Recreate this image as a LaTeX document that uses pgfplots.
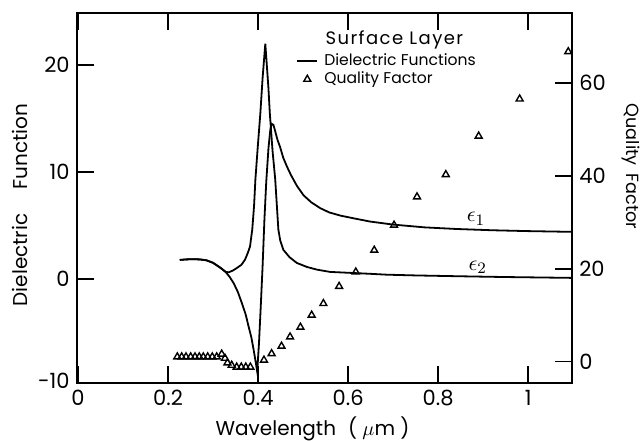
\documentclass[border=0pt]{standalone}
\usepackage{fontspec}
\setmainfont{Poppins}
\newfontfamily\spacedfont[LetterSpace=8]{Poppins}
\usepackage{pgfplots}
\pgfplotsset{compat=1.18}
\pgfplotsset{
  legline/.style={legend image code/.code={\draw[##1] (0pt,0pt) -- (10pt,0pt); \path[draw=none, mark=none] (0pt,0pt) -- (13pt,0pt);}},
  legmark/.style={legend image code/.code={\draw[##1] plot coordinates {(5pt,0pt)}; \path[draw=none] (0pt,0pt) -- (13pt,0pt);}},
}

% epsilon_1 (real part)
\pgfplotstableread{
x y
0.226 1.75
0.240 1.80
0.255 1.82
0.270 1.80
0.285 1.72
0.300 1.48
0.310 1.20
0.320 0.90
0.328 0.62
0.337 0.15
0.346 -0.45
0.355 -1.25
0.364 -2.30
0.372 -3.30
0.379 -4.50
0.385 -5.50
0.390 -6.65
0.395 -7.90
0.398 -8.70
0.402 -6.00
0.406 -2.50
0.410 1.20
0.414 5.50
0.418 9.00
0.423 12.20
0.427 13.90
0.430 14.50
0.434 14.40
0.438 13.80
0.443 13.00
0.449 12.30
0.456 11.30
0.464 10.50
0.473 9.70
0.486 8.70
0.501 7.80
0.518 7.15
0.538 6.60
0.558 6.20
0.583 5.90
0.612 5.65
0.648 5.35
0.700 5.06
0.770 4.80
0.840 4.65
0.920 4.53
1.000 4.45
1.098 4.38
}\epsone

% epsilon_2 (imaginary part)
\pgfplotstableread{
x y
0.226 1.75
0.240 1.80
0.255 1.82
0.270 1.80
0.285 1.72
0.300 1.48
0.310 1.20
0.320 0.90
0.328 0.62
0.335 0.60
0.344 0.76
0.353 1.00
0.363 1.30
0.371 1.78
0.377 2.40
0.382 3.00
0.387 4.60
0.391 6.80
0.394 9.30
0.399 12.20
0.405 15.50
0.410 18.80
0.416 22.00
0.419 20.20
0.423 17.80
0.426 15.50
0.432 12.00
0.438 9.30
0.445 4.60
0.449 3.60
0.456 2.70
0.470 2.00
0.486 1.47
0.508 1.10
0.531 0.84
0.560 0.63
0.600 0.55
0.650 0.45
0.686 0.37
0.750 0.30
0.850 0.22
0.950 0.15
1.098 0.07
}\epstwo

% quality factor
\pgfplotstableread{
x q
0.2205 1.0
0.2302 1.0
0.2398 1.0
0.2502 1.0
0.2598 1.0
0.2693 1.0
0.2782 1.0
0.2880 1.0
0.2982 1.0
0.3080 1.0
0.3191 1.6
0.3264 0.7
0.3319 -0.3
0.3413 -0.8
0.3524 -1.2
0.3626 -1.2
0.3726 -1.2
0.3828 -1.2
0.413 0.3
0.430 1.7
0.452 3.3
0.471 5.3
0.494 7.4
0.519 10.0
0.545 12.5
0.580 16.2
0.617 19.3
0.658 24.0
0.702 29.4
0.753 35.5
0.817 40.3
0.890 48.6
0.981 56.6
1.089 66.8
}\qual

\begin{document}
\begin{tikzpicture}
\pgfplotsset{
  every axis/.append style={
    scale only axis, width=247.8pt, height=185.3pt,
    xmin=-0.003, xmax=1.098,
    tick align=inside, major tick length=8.5pt,
    every tick/.style={black, line width=0.9pt},
    ticklabel style={font=\fontsize{10.5}{12}\selectfont},
    /pgf/number format/assume math mode=true,
    clip=false,
  }
}
\begin{axis}[
  ymin=-9.8, ymax=24.9,
  axis line style={line width=1pt},
  xtick={0,0.2,0.4,0.6,0.8,1}, xticklabels={0,0.2,0.4,0.6,0.8,1},
  xtick pos=both, xticklabel pos=bottom,
  ytick={0,10,20}, yticklabels={0,10,20}, ytick pos=left,
]
\addplot[black, line width=0.9pt] table[x=x, y=y] {\epsone};
\addplot[black, line width=0.9pt] table[x=x, y=y] {\epstwo};
\node[anchor=east, inner sep=0.333em, font=\fontsize{10.5}{12}\selectfont] at (rel axis cs:0,0.007) {-10};
\node[font=\fontsize{11}{12}\selectfont] at (axis cs:0.884,5.6) {$\epsilon_1$};
\node[font=\fontsize{11}{12}\selectfont] at (axis cs:0.888,1.05) {$\epsilon_2$};
\node[font=\fontsize{9}{10}\spacedfont, anchor=base] at (rel axis cs:0.641,0.913) {Surface Layer};
\node[rotate=90, font=\fontsize{10}{12}\selectfont] at (rel axis cs:-0.114,0.481) {Dielectric\hspace{1.2em}Function};
\node[rotate=-90, font=\fontsize{8.8}{12}\selectfont] at (rel axis cs:1.118,0.585) {Quality\hspace{0.45em}Factor};
\node[font=\fontsize{10}{12}\selectfont, anchor=base] at (rel axis cs:0.476,-0.1395) {Wavelength\hspace{0.6em}( $\mu$m )};
\coordinate (sw) at (rel axis cs:0,0);
\coordinate (ne) at (rel axis cs:1,1);
\end{axis}
\begin{axis}[
  ymin=-4.7, ymax=75.2,
  hide x axis,
  axis line style={draw=none},
  ytick={0,20,40,60}, yticklabels={0,20,40,60}, ytick pos=right, yticklabel pos=right,
  legend style={at={(rel axis cs:0.4425,0.893)}, anchor=north west, draw=none, fill=none,
    inner sep=0pt, row sep=0.5pt, font=\fontsize{7.8}{8}\selectfont,
    nodes={inner sep=0.5pt, text height=5.8pt, text depth=1.7pt}},
  legend cell align=left,
]
\addlegendimage{black, line width=0.9pt, legline}
\addlegendentry{Dielectric Functions}
\addplot[only marks, mark=triangle, mark size=2pt, mark options={black, line width=0.7pt}, legmark]
  table[x=x, y=q] {\qual};
\addlegendentry{Quality Factor}
\end{axis}
\pgfresetboundingbox
\path[use as bounding box] ([shift={(-38.35pt,-28.35pt)}]sw) rectangle ([shift={(34.35pt,6.35pt)}]ne);
\end{tikzpicture}
\end{document}
